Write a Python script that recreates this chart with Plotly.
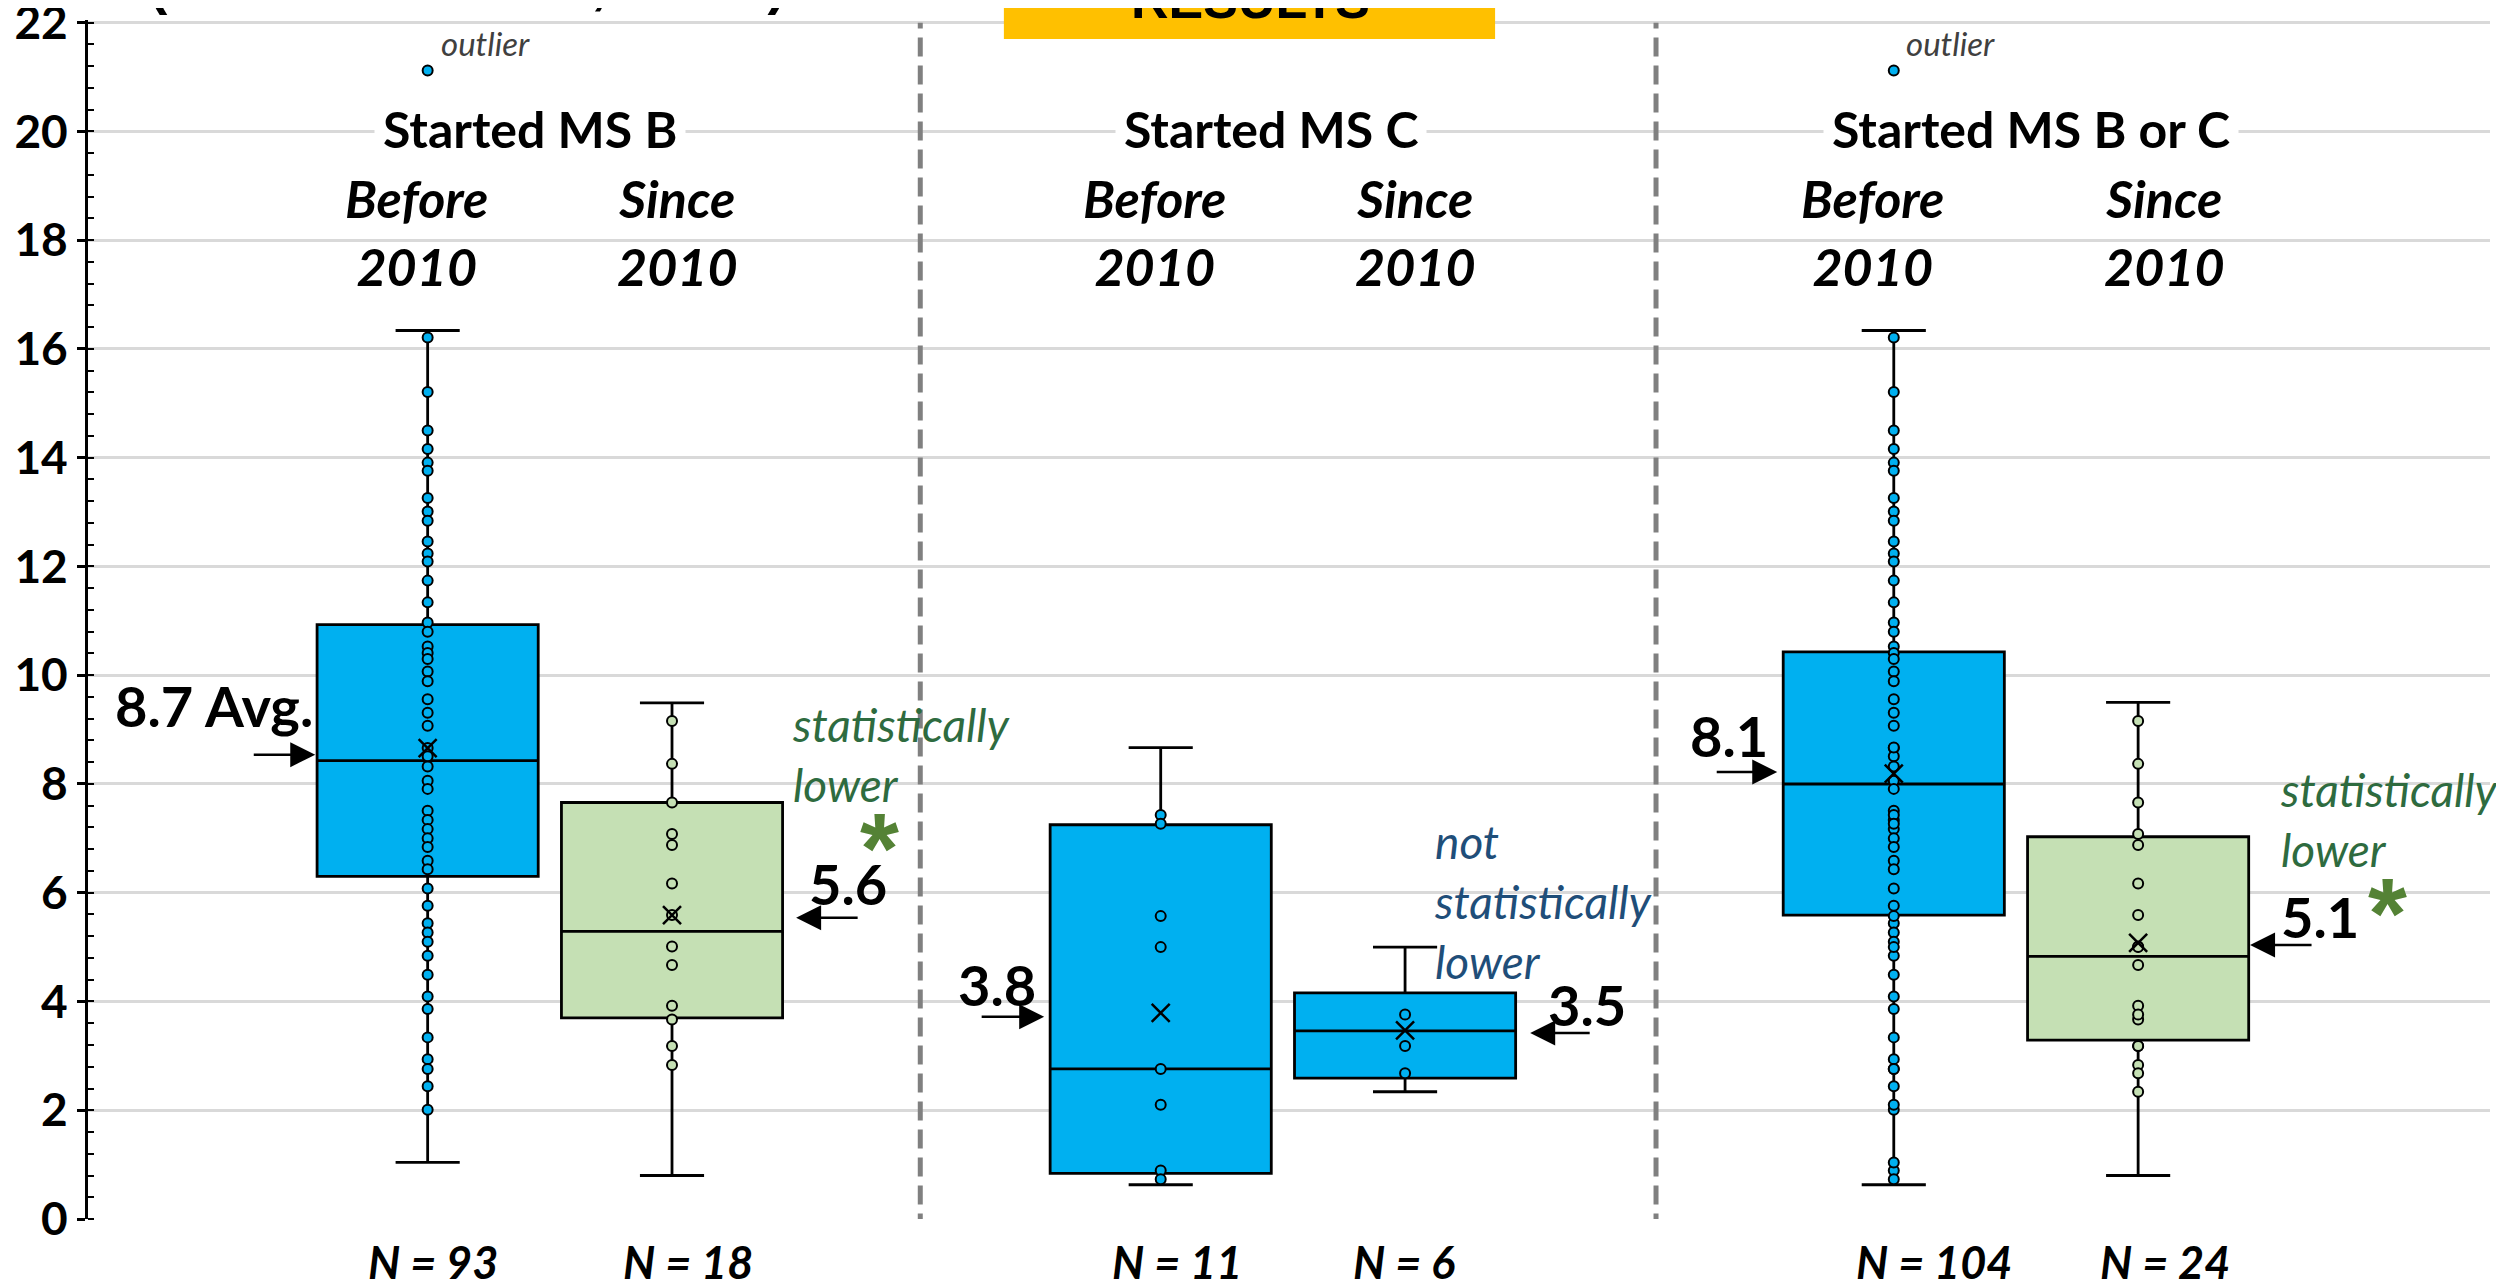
import plotly.graph_objects as go

# x slot of each box: MS B before/since, MS C before/since, MS B or C before/since
POS = [0, 1, 3, 4, 6, 7]
FILL = ["#00B0F0", "#C5E0B4", "#00B0F0", "#00B0F0", "#00B0F0", "#C5E0B4"]
N_LABELS = ["N = 93", "N = 18", "N = 11", "N = 6", "N = 104", "N = 24"]
GROUPS = ["Started MS B", "Started MS C", "Started MS B or C"]
SUBHEADS = ["Before<br>2010", "Since<br>2010"] * 3

# box statistics
Q1 = [6.30, 3.70, 0.84, 2.59, 5.59, 3.29]
MEDIAN = [8.43, 5.29, 2.76, 3.46, 8.00, 4.83]
Q3 = [10.93, 7.66, 7.25, 4.16, 10.43, 7.03]
LOW = [1.04, 0.80, 0.63, 2.34, 0.63, 0.80]
HIGH = [16.34, 9.49, 8.67, 5.00, 16.34, 9.50]
MEAN = [8.66, 5.59, 3.79, 3.47, 8.19, 5.08]
MEAN_LABELS = ["8.7 Avg.", "5.6", "3.8", "3.5", "8.1", "5.1"]

# inner points (values at the whisker ends are not drawn)
B_BEFORE = [16.21, 15.21, 14.50, 14.16, 13.91, 13.76, 13.26, 13.01, 12.84, 12.46,
            12.24, 12.09, 11.74, 11.34, 10.97, 10.80, 10.53, 10.41, 10.30, 10.07,
            9.89, 9.56, 9.31, 9.07, 8.66, 8.51, 8.32, 8.06, 7.91, 7.51, 7.34, 7.17,
            7.00, 6.84, 6.59, 6.43, 6.08, 5.76, 5.44, 5.27, 5.10, 4.84, 4.49, 4.09,
            3.86, 3.34, 2.94, 2.76, 2.44, 2.01]
B_SINCE = [9.16, 8.37, 7.66, 7.08, 6.88, 6.17, 5.59, 5.01, 4.67, 3.92, 3.67, 3.18, 2.83]
C_BEFORE = [7.43, 7.27, 5.57, 5.00, 2.76, 2.10, 0.89, 0.73]
C_SINCE = [3.76, 3.18, 2.68]
# the combined group holds both groups, so the sub-group extremes become inner points
BC_BEFORE = B_BEFORE + C_BEFORE + [1.04, 8.67]
BC_SINCE = B_SINCE + C_SINCE + [5.00, 2.34]
POINTS = [B_BEFORE, B_SINCE, C_BEFORE, C_SINCE, BC_BEFORE, BC_SINCE]
OUTLIER = 21.12
OUTLIER_BOXES = [0, 4]

BOLD = "Lato, Liberation Sans, sans-serif"
NOTE = "Lato, Open Sans, sans-serif"
STAR = "Liberation Sans, sans-serif"

fig = go.Figure()
for i in range(6):
    fig.add_trace(go.Box(x=[POS[i]], q1=[Q1[i]], median=[MEDIAN[i]], q3=[Q3[i]],
                         lowerfence=[LOW[i]], upperfence=[HIGH[i]],
                         width=0.905, whiskerwidth=0.29, fillcolor=FILL[i],
                         line=dict(color="black", width=2.8), boxpoints=False,
                         hoverinfo="skip", showlegend=False))
    pts = POINTS[i]
    fig.add_trace(go.Scatter(x=[POS[i]] * len(pts), y=pts, mode="markers", showlegend=False,
                             marker=dict(size=10, color=FILL[i], line=dict(color="black", width=2))))

fig.add_trace(go.Scatter(x=[POS[i] for i in OUTLIER_BOXES], y=[OUTLIER] * len(OUTLIER_BOXES),
                         mode="markers", showlegend=False,
                         marker=dict(size=10, color="#00B0F0", line=dict(color="black", width=2))))
fig.add_trace(go.Scatter(x=POS, y=MEAN, mode="markers", showlegend=False,
                         marker=dict(symbol="x-thin", size=18, line=dict(color="black", width=2.5))))

# dashed separators between the three groups
for xs in (2.016, 5.027):
    fig.add_shape(type="line", x0=xs, x1=xs, y0=-0.25, y1=22, layer="above",
                  line=dict(color="#808080", width=5, dash="19px,9px"))

# yellow banner cut off at the top
fig.add_shape(type="rect", xref="paper", yref="paper", x0=0.3813, x1=0.5858,
              y0=0.9842, y1=1.03, fillcolor="#FFC000", line=dict(width=0), layer="above")

ann = []
ann.append(dict(text="RESULTS", xref="paper", yref="paper", x=0.4838, y=0.9905,
                xanchor="center", yanchor="bottom", showarrow=False,
                font=dict(family=STAR, size=52, weight="bold", color="black")))
ann.append(dict(text="(Time to Defense, Years)", xref="paper", yref="paper", x=0.0246, y=1.0028,
                xanchor="left", yanchor="bottom", showarrow=False,
                font=dict(family=STAR, size=55, weight="bold", color="black")))

for txt, gx in zip(GROUPS, [0.42, 3.45, 6.56]):
    ann.append(dict(text=txt, x=gx, y=20.05, showarrow=False, bgcolor="white", borderpad=8,
                    font=dict(family=BOLD, size=50, weight="bold", color="black")))
for txt, sx in zip(SUBHEADS, [-0.047, 1.021, 2.973, 4.041, 5.912, 7.106]):
    ann.append(dict(text=txt, x=sx, y=18.155, showarrow=False,
                    font=dict(family=BOLD, size=52, weight="bold", style="italic", color="black")))
for txt, nx in zip(N_LABELS, [0.0225, 1.066, 3.067, 3.996, 6.166, 7.111]):
    ann.append(dict(text=txt, x=nx, yref="paper", y=-0.0359, yanchor="middle", showarrow=False,
                    font=dict(family=BOLD, size=45, weight="bold", style="italic", color="black")))
for ox in (0.047, 6.043):
    ann.append(dict(text="outlier", x=ox, y=21.63, xanchor="left", showarrow=False,
                    font=dict(family=NOTE, size=33, style="italic", color="#404040")))

# mean labels and their arrows
lab_xy = [(-0.46, 9.45), (1.721, 6.17), (2.331, 4.32), (4.746, 3.94), (5.326, 8.89), (7.745, 5.57)]
for i, (lx, ly) in enumerate(lab_xy):
    ann.append(dict(text=MEAN_LABELS[i], x=lx, y=ly, showarrow=False,
                    xanchor="right" if i == 0 else "center",
                    font=dict(family=BOLD, size=56, weight="bold", color="black")))
arrows = [(-0.460, 8.54, -63), (1.508, 5.54, 63), (2.523, 3.72, -64),
          (4.512, 3.42, 61), (5.523, 8.22, -62), (7.458, 5.04, 63)]
for hx, hy, ax in arrows:
    ann.append(dict(text="", x=hx, y=hy, ax=ax, ay=0, showarrow=True, arrowhead=2,
                    arrowsize=2, arrowwidth=2.5, arrowcolor="black", standoff=0))

# significance notes
for nx, ny in ((1.484, 8.55), (7.573, 7.34)):
    ann.append(dict(text="statistically<br>lower", x=nx, y=ny, xanchor="left", align="left",
                    showarrow=False, font=dict(family=NOTE, size=46, style="italic", color="#2E6B3F")))
ann.append(dict(text="not<br>statistically<br>lower", x=4.111, y=5.83, xanchor="left", align="left",
                showarrow=False, font=dict(family=NOTE, size=46, style="italic", color="#1F4E79")))
for sx, sy in ((1.85, 6.83), (8.02, 5.62)):
    ann.append(dict(text="*", x=sx, y=sy, showarrow=False,
                    font=dict(family=STAR, size=100, weight="bold", color="#548235")))

# the page body adds an 8 px offset, so the margins are shifted by that amount
fig.update_layout(
    width=2504, height=1285,
    margin=dict(l=80, r=22, t=12, b=74, autoexpand=False),
    plot_bgcolor="white", paper_bgcolor="white",
    annotations=ann,
    xaxis=dict(range=[-1.39, 8.44], visible=False, automargin=False),
    yaxis=dict(range=[0, 22.05], dtick=2, tick0=0, showgrid=True, gridcolor="#D9D9D9",
               gridwidth=2.5, zeroline=False, showline=True, linecolor="black", linewidth=3,
               ticks="outside", ticklen=8, tickwidth=3, tickcolor="black",
               ticklabelstandoff=0, ticklabeloverflow="allow", automargin=False,
               tickfont=dict(family=BOLD, size=46, weight="bold", color="black"),
               minor=dict(ticks="inside", ticklen=6, tickwidth=2, dtick=0.4,
                          tickcolor="black", showgrid=False)),
)

fig.write_html("out.html")
